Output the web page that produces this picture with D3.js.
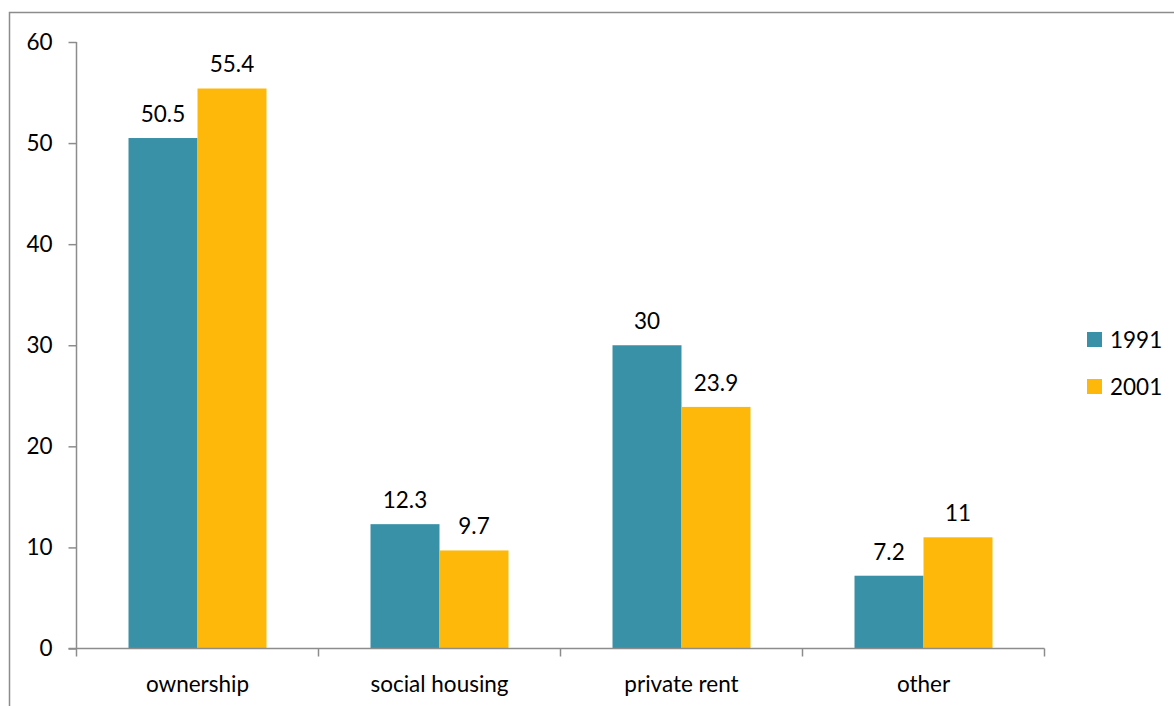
<!DOCTYPE html>
<html lang="en">
<head>
    <meta charset="utf-8">
    <title>Housing tenure 1991 / 2001</title>
    <script src="https://cdn.jsdelivr.net/npm/d3@7"></script>
    <style>
        body { margin: 0; background: #fff; }
        text { font-family: Lato, "Open Sans", sans-serif; fill: #000; }
    </style>
</head>
<body>
<script>
    // data
    var categories = ["ownership", "social housing", "private rent", "other"];
    var years = ["1991", "2001"];
    var values1991 = [50.5, 12.3, 30, 7.2];
    var values2001 = [55.4, 9.7, 23.9, 11];
    var yTicks = [0, 10, 20, 30, 40, 50, 60];
    var colors = ["#3891A7", "#FEB80A"];

    var w = 1174, h = 706;
    var plotLeft = 76.5, plotRight = 1044.5, plotTop = 42, plotBottom = 648.5;
    var fs = "22.5px";

    var svg = d3.select("body").append("svg")
        .attr("width", w)
        .attr("height", h);

    // outer frame
    svg.append("rect")
        .attr("x", 9.5).attr("y", 12.5)
        .attr("width", w + 10).attr("height", h + 10)
        .attr("fill", "none")
        .attr("stroke", "#8c8c8c")
        .attr("stroke-width", 1.5);

    var x0 = d3.scaleBand()
        .domain(categories)
        .range([plotLeft, plotRight]);

    var x1 = d3.scaleBand()
        .domain(years)
        .range([0, 138]);

    var y = d3.scaleLinear()
        .domain([0, 60])
        .range([plotBottom, plotTop]);

    var rows = categories.map(function(c, i) {
        return { cat: c, vals: [values1991[i], values2001[i]] };
    });

    var groups = svg.selectAll("g.grp")
        .data(rows)
        .enter().append("g")
        .attr("class", "grp")
        .attr("transform", function(d) {
            return "translate(" + (x0(d.cat) + x0.bandwidth() / 2 - 69) + ",0)";
        });

    groups.selectAll("rect")
        .data(function(d) { return d.vals.map(function(v, j) { return { year: years[j], v: v, j: j }; }); })
        .enter().append("rect")
        .attr("x", function(d) { return x1(d.year); })
        .attr("y", function(d) { return y(d.v); })
        .attr("width", x1.bandwidth())
        .attr("height", function(d) { return y(0) - y(d.v); })
        .attr("fill", function(d) { return colors[d.j]; });

    groups.selectAll("text.val")
        .data(function(d) { return d.vals.map(function(v, j) { return { year: years[j], v: v }; }); })
        .enter().append("text")
        .attr("class", "val")
        .attr("x", function(d) { return x1(d.year) + x1.bandwidth() / 2; })
        .attr("y", function(d) { return y(d.v) - 16; })
        .attr("text-anchor", "middle")
        .attr("font-size", fs)
        .text(function(d) { return d.v; });

    // y axis
    var yAxis = d3.axisLeft(y)
        .tickValues(yTicks)
        .tickSize(8)
        .tickPadding(16)
        .tickSizeOuter(0);

    var gy = svg.append("g")
        .attr("transform", "translate(" + plotLeft + ",0)")
        .call(yAxis);
    gy.select(".domain").remove();
    gy.selectAll("line").attr("stroke", "#8c8c8c").attr("stroke-width", 1.5);
    gy.selectAll("text").attr("font-size", fs).style("font-family", "Lato, sans-serif").attr("fill", "#000");
    gy.append("line")
        .attr("x1", 0).attr("x2", 0)
        .attr("y1", plotTop).attr("y2", plotBottom)
        .attr("stroke", "#8c8c8c").attr("stroke-width", 1.5);

    // x axis with ticks on band edges
    svg.append("line")
        .attr("x1", plotLeft - 8).attr("x2", plotRight)
        .attr("y1", plotBottom).attr("y2", plotBottom)
        .attr("stroke", "#8c8c8c").attr("stroke-width", 1.5);

    var edges = categories.map(function(c) { return x0(c); }).concat([plotRight]);
    svg.selectAll("line.xt")
        .data(edges)
        .enter().append("line")
        .attr("class", "xt")
        .attr("x1", function(d) { return d; }).attr("x2", function(d) { return d; })
        .attr("y1", plotBottom).attr("y2", plotBottom + 8)
        .attr("stroke", "#8c8c8c").attr("stroke-width", 1.5);

    svg.selectAll("text.cat")
        .data(categories)
        .enter().append("text")
        .attr("class", "cat")
        .attr("x", function(d) { return x0(d) + x0.bandwidth() / 2; })
        .attr("y", 692)
        .attr("text-anchor", "middle")
        .attr("font-size", fs)
        .text(function(d) { return d; });

    // legend
    var legend = svg.selectAll("g.leg")
        .data(years)
        .enter().append("g")
        .attr("class", "leg")
        .attr("transform", function(d, i) { return "translate(1087," + (332 + i * 47) + ")"; });

    legend.append("rect")
        .attr("width", 15).attr("height", 15)
        .attr("fill", function(d, i) { return colors[i]; });

    legend.append("text")
        .attr("x", 23).attr("y", 16)
        .attr("font-size", fs)
        .text(function(d) { return d; });
</script>
</body>
</html>
